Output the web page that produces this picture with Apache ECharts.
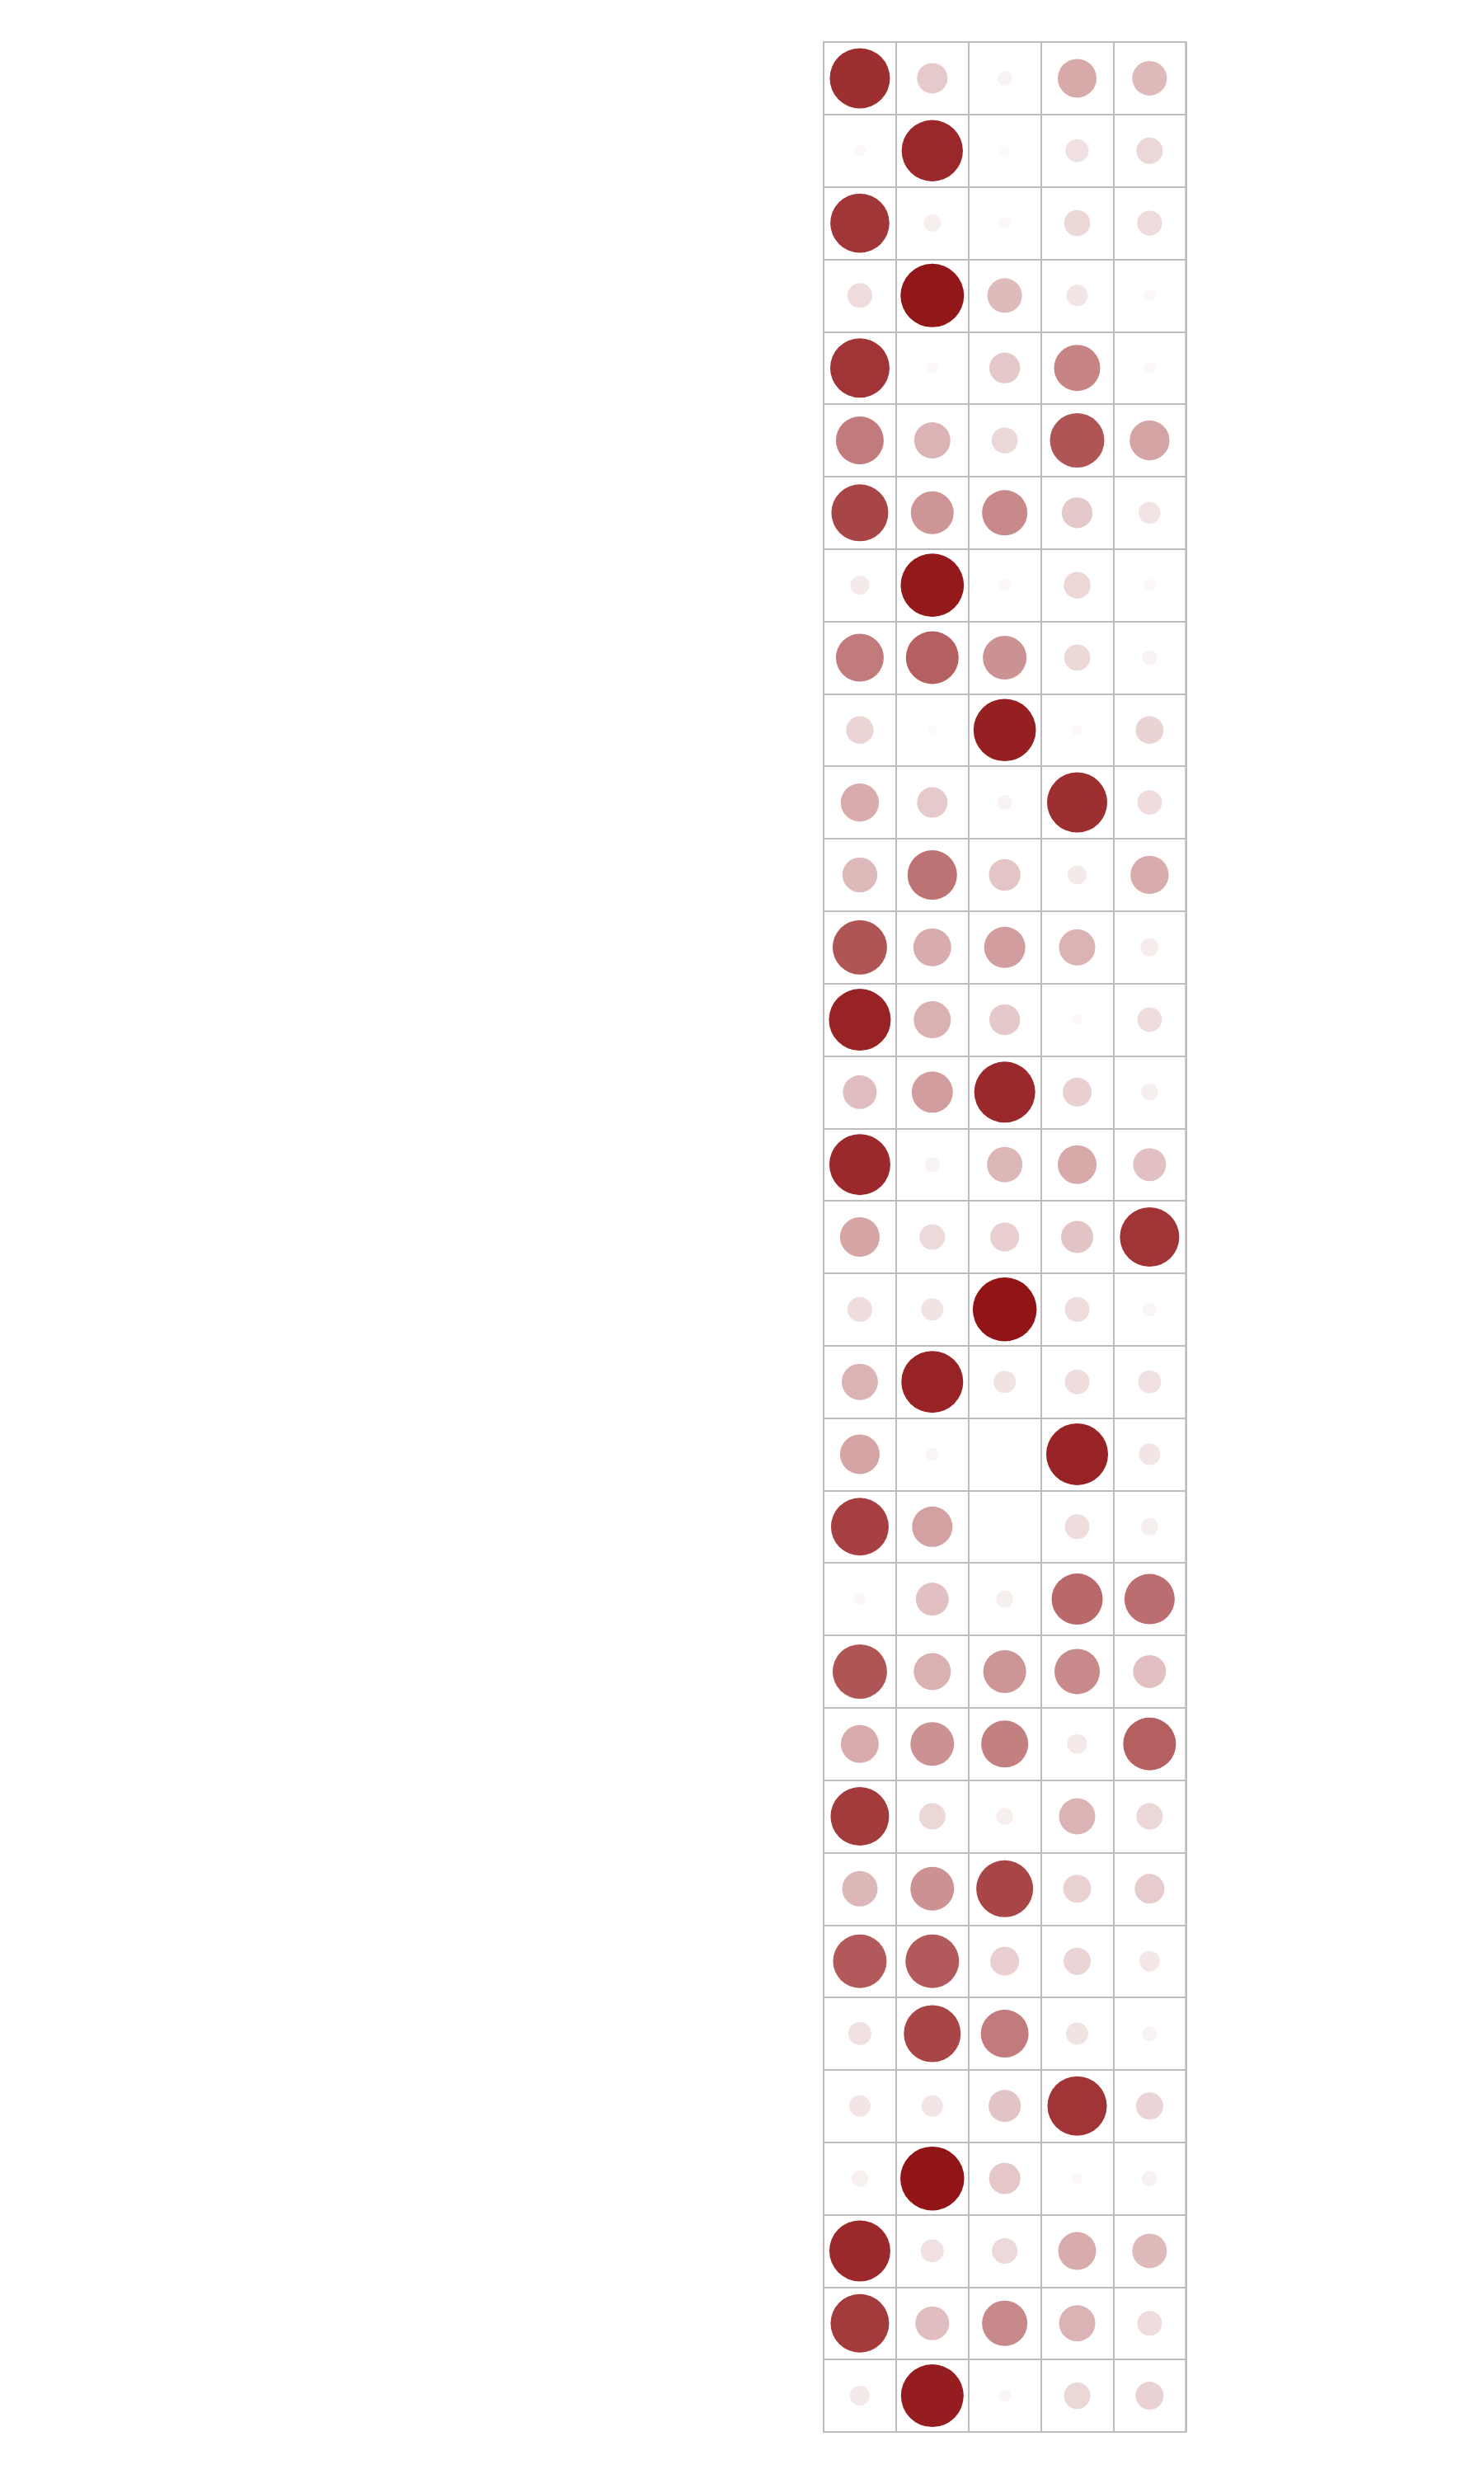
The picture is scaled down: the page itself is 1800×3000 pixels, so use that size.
<!DOCTYPE html>
<html>
<head>
<meta charset="utf-8">
<script src="https://cdn.jsdelivr.net/npm/echarts@6/dist/echarts.min.js"></script>
<style>
html,body{margin:0;padding:0;background:#fff;}
#chart{width:1800px;height:3000px;}
</style>
</head>
<body>
<div id="chart"></div>
<script>
// Column and row categories (no labels are shown in the reference)
const columns = ['C1', 'C2', 'C3', 'C4', 'C5'];
const rows = Array.from({length: 33}, (_, i) => 'R' + (i + 1));

const col1 = [0.887,0.033,0.855,0.150,0.863,0.560,0.793,0.088,0.560,0.185,0.357,0.298,0.725,0.937,0.280,0.912,0.384,0.150,0.322,0.384,0.816,0.033,0.725,0.352,0.839,0.308,0.703,0.130,0.113,0.067,0.912,0.839,0.096];
const col2 = [0.228,0.920,0.073,0.987,0.030,0.322,0.450,0.979,0.682,0.020,0.228,0.600,0.352,0.337,0.416,0.054,0.160,0.121,0.937,0.043,0.400,0.266,0.337,0.468,0.170,0.468,0.703,0.793,0.113,1.000,0.130,0.280,0.962];
const col3 = [0.052,0.027,0.033,0.294,0.232,0.167,0.504,0.033,0.468,0.953,0.054,0.245,0.416,0.232,0.912,0.308,0.204,1.000,0.121,0.000,0.000,0.073,0.450,0.541,0.073,0.793,0.204,0.560,0.253,0.240,0.160,0.504,0.037];
const col4 = [0.368,0.130,0.167,0.113,0.522,0.725,0.232,0.174,0.167,0.028,0.887,0.088,0.322,0.028,0.204,0.368,0.253,0.150,0.150,0.937,0.150,0.640,0.504,0.096,0.322,0.192,0.181,0.121,0.863,0.028,0.352,0.322,0.170];
const col5 = [0.294,0.170,0.153,0.034,0.034,0.389,0.118,0.034,0.054,0.189,0.147,0.357,0.081,0.147,0.073,0.266,0.863,0.048,0.130,0.113,0.073,0.620,0.266,0.682,0.170,0.216,0.104,0.054,0.181,0.060,0.294,0.150,0.192];

const allCols = [col1, col2, col3, col4, col5];
const data = [];
allCols.forEach((vals, ci) => {
  vals.forEach((v, ri) => { data.push([ci, ri, v]); });
});

const chart = echarts.init(document.getElementById('chart'), null, {renderer: 'canvas'});
const gridColor = '#bdbdbd';
chart.setOption({
  animation: false,
  backgroundColor: '#ffffff',
  grid: {
    left: 999, top: 51, width: 439.3, height: 2898,
    show: true, borderColor: gridColor, borderWidth: 2, backgroundColor: 'transparent'
  },
  xAxis: {
    type: 'category', data: columns, boundaryGap: true, position: 'top',
    axisLine: {show: false}, axisTick: {show: false}, axisLabel: {show: false},
    splitLine: {show: true, interval: 0, lineStyle: {color: gridColor, width: 2}}
  },
  yAxis: {
    type: 'category', data: rows, inverse: true, boundaryGap: true,
    axisLine: {show: false}, axisTick: {show: false}, axisLabel: {show: false},
    splitLine: {show: true, interval: 0, lineStyle: {color: gridColor, width: 2}}
  },
  visualMap: {
    show: false, type: 'continuous', min: 0, max: 1, dimension: 2,
    inRange: {color: ['#ffffff', '#911416']}
  },
  series: [{
    type: 'scatter',
    data: data,
    symbol: 'circle',
    symbolSize: function (val) { return 77.5 * Math.sqrt(Math.max(val[2], 0)); },
    itemStyle: {opacity: 1}
  }]
});
</script>
</body>
</html>
